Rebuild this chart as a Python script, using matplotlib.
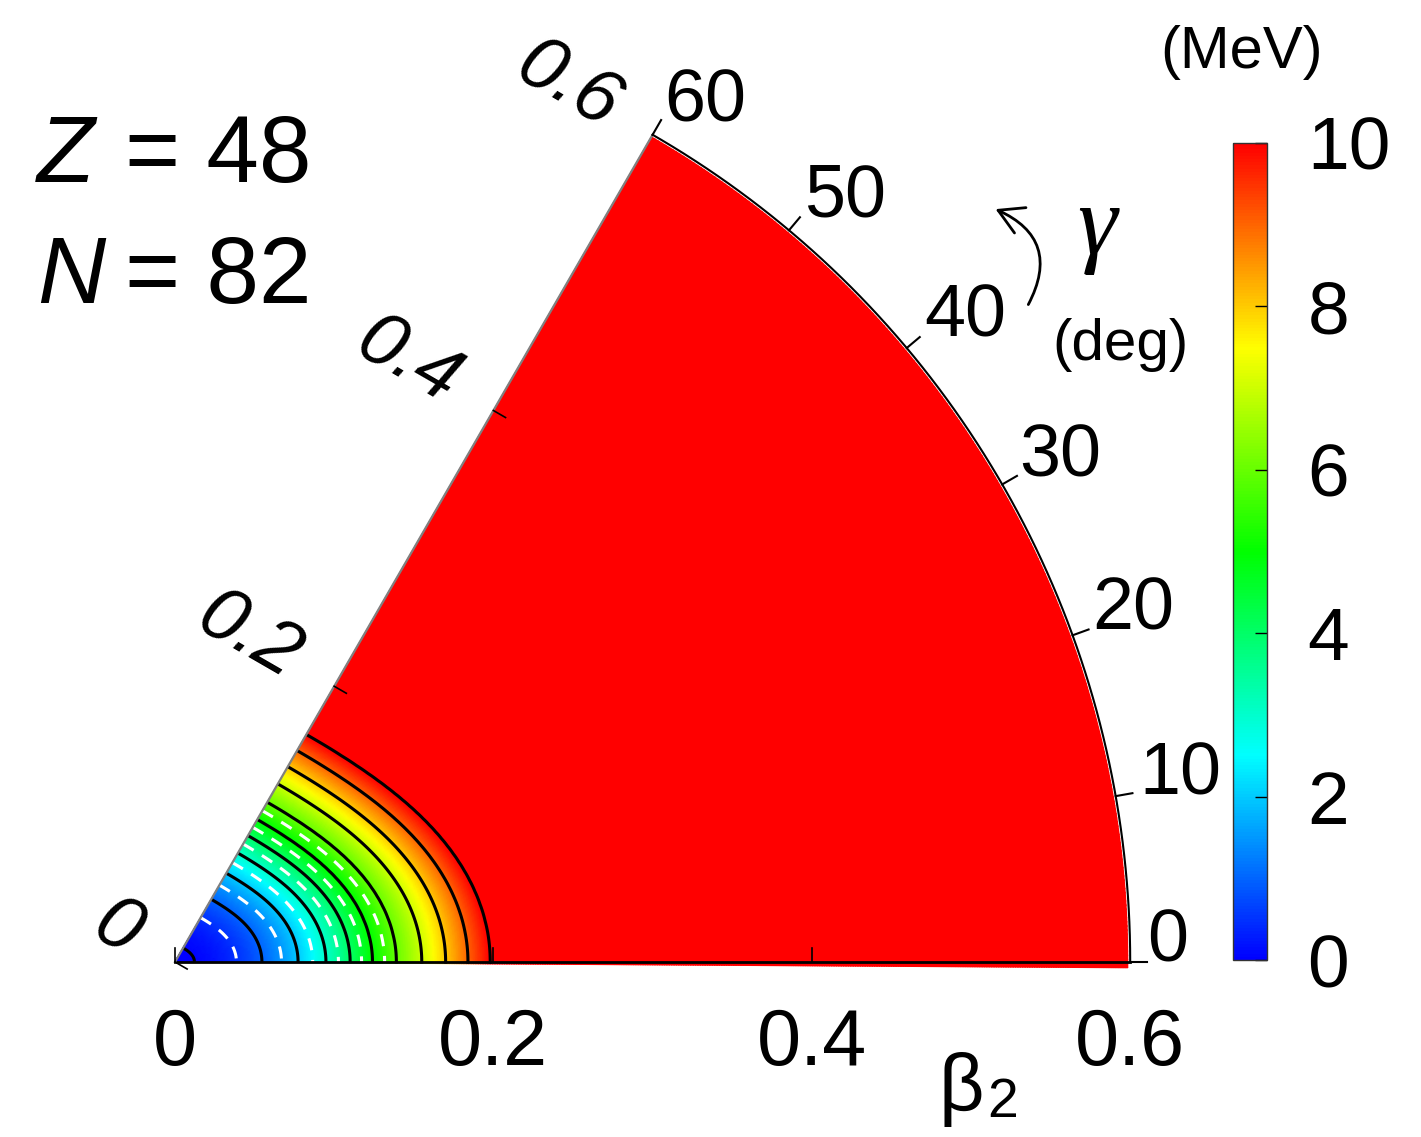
import numpy as np
import matplotlib
matplotlib.use('Agg')
import matplotlib.pyplot as plt
from matplotlib.colors import LinearSegmentedColormap
from matplotlib.patches import FancyArrowPatch

plt.rcParams['font.family'] = ['Liberation Sans', 'DejaVu Sans']

# beta2 where the surface crosses each MeV level along gamma = 0
level_energy = [0, 1, 2, 3, 4, 5, 6, 7, 8, 9, 10]
level_beta = [0.0, 0.0546, 0.0773, 0.0948, 0.110, 0.124, 0.139, 0.155, 0.170, 0.184, 0.198]
oblate_stiffness = 0.20   # gamma=60 contours sit at ~0.83 of the gamma=0 radius

solid_levels = [0.05, 1, 2, 3, 4, 5, 6, 7, 8, 9, 10]
dashed_levels = [0.5, 1.5, 2.5, 3.5, 4.5, 5.5]

beta_ticks = [0, 0.2, 0.4, 0.6]
beta_labels = ['0', '0.2', '0.4', '0.6']
gamma_ticks = [0, 10, 20, 30, 40, 50, 60]
cbar_ticks = [0, 2, 4, 6, 8, 10]
beta_max = 0.6

W, H = 1421, 1137
scale = 1592.0          # pixels per unit beta
ox, oy = 175, 962       # origin in pixels


def px(x, y):
    return (x - ox) / scale, (oy - y) / scale


cmap = LinearSegmentedColormap.from_list('rb', ['#0000ff', '#00ffff', '#00ff00', '#ffff00', '#ff0000'])

fig = plt.figure(figsize=(W / 100, H / 100), dpi=100)
ax = fig.add_axes([0, 0, 1, 1])
ax.set_xlim(-ox / scale, (W - ox) / scale)
ax.set_ylim((oy - H) / scale, oy / scale)
ax.axis('off')

# surface
b = np.linspace(0, 0.5985, 400)
g = np.radians(np.linspace(-0.35, 60, 241))
B, G = np.meshgrid(b, g)
Beff = B * (1 + oblate_stiffness * (1 - np.cos(3 * G)) / 2)
sq = np.interp(Beff, level_beta + [0.8], list(np.sqrt(level_energy)) + [9.0])
E = sq ** 2
X = B * np.cos(G)
Y = B * np.sin(G)

mesh = ax.pcolormesh(X, Y, E, shading='gouraud', cmap=cmap, vmin=0, vmax=10)
ax.contour(X, Y, E, levels=solid_levels, colors='k', linewidths=2.2)
ax.contour(X, Y, E, levels=dashed_levels, colors='white', linewidths=2.2,
           linestyles=[(0, (4, 3.2))])

# frame of the sector
t60 = np.radians(60)
ax.plot([0, beta_max], [0, 0], color='k', lw=2.0)
ax.plot([0, beta_max * np.cos(t60)], [0, beta_max * np.sin(t60)], color='#808080', lw=1.6)
arc = np.radians(np.linspace(0, 60, 300))
ax.plot(beta_max * np.cos(arc), beta_max * np.sin(arc), color='k', lw=1.5)

tl = 14 / scale
for bt in beta_ticks[:-1]:
    ax.plot([bt, bt], [0, tl], color='k', lw=1.2)
    ex, ey = bt * np.cos(t60), bt * np.sin(t60)
    ax.plot([ex, ex + tl * np.sin(t60)], [ey, ey - tl * np.cos(t60)], color='k', lw=1.2)
for gt in gamma_ticks:
    a = np.radians(gt)
    ax.plot([beta_max * np.cos(a), (beta_max + 17 / scale) * np.cos(a)],
            [beta_max * np.sin(a), (beta_max + 17 / scale) * np.sin(a)], color='k', lw=1.5)

# beta labels on the x axis
for bt, lab in zip(beta_ticks, beta_labels):
    ax.text(bt, px(0, 1065)[1], lab, ha='center', va='baseline', fontsize=57)

# beta labels along the gamma = 60 edge
off = 45 / scale
for bt, lab in zip(beta_ticks, beta_labels):
    ex, ey = bt * np.cos(t60), bt * np.sin(t60)
    ax.text(ex - off * np.sin(t60), ey + off * np.cos(t60), lab, ha='right', va='center',
            rotation=-30, rotation_mode='anchor', fontsize=55, style='italic')

# gamma labels
gamma_label_px = [(1168, 935), (1180, 768), (1133, 603), (1060, 450), (965, 310), (845, 190), (705, 95)]
fs = 53
for gt, (lx, ly) in zip(gamma_ticks, gamma_label_px):
    x, y = px(lx, ly + 0.358 * fs * 100 / 72)
    ax.text(x, y, str(gt), ha='center', va='baseline', fontsize=fs)

# axis titles
x, y = px(938, 1110)
ax.text(x, y, 'β', ha='left', va='baseline', fontsize=57)
x, y = px(987, 1117)
ax.text(x, y, '2', ha='left', va='baseline', fontsize=40)

x, y = px(1097, 254)
ax.text(x, y, 'γ', ha='center', va='baseline', fontsize=72, style='italic',
        family=['Liberation Serif', 'DejaVu Serif'])
x, y = px(1121, 360)
ax.text(x, y, '(deg)', ha='center', va='baseline', fontsize=42)
arrow = FancyArrowPatch(px(1027, 307), px(993, 208), arrowstyle='->,head_length=0.7,head_width=0.4',
                        connectionstyle='arc3,rad=0.55', mutation_scale=25, lw=2.0, color='k')
ax.add_patch(arrow)

# nucleus labels
for name, val, base in [('Z', '48', 182), ('N', '82', 303)]:
    x, y = px(37, base)
    ax.text(x, y, name, ha='left', va='baseline', fontsize=68, style='italic')
    x, y = px(125, base)
    ax.text(x, y, '= ' + val, ha='left', va='baseline', fontsize=68)

x, y = px(1242, 68)
ax.text(x, y, '(MeV)', ha='center', va='baseline', fontsize=43)

# colour bar
cax = fig.add_axes([1233 / W, (H - 960) / H, 34 / W, 817 / H])
cb = fig.colorbar(mesh, cax=cax, ticks=cbar_ticks)
cb.outline.set_linewidth(1.0)
cb.outline.set_edgecolor('#333333')
cax.tick_params(direction='in', length=9, width=1.0, labelsize=54, pad=29)

fig.savefig('out.png', dpi=100)
